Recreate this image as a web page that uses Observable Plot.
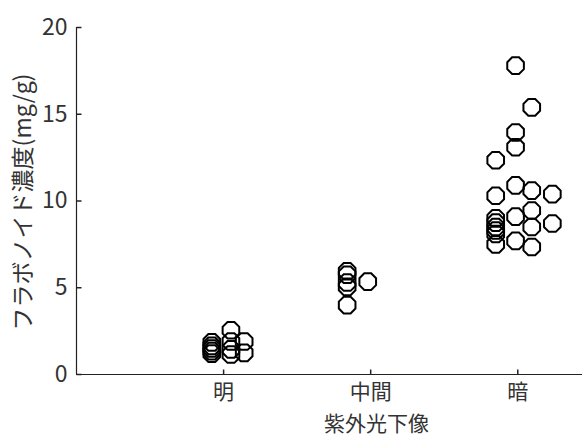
<!DOCTYPE html>
<html>
<head>
<meta charset="utf-8">
<script src="https://cdn.jsdelivr.net/npm/d3@7"></script>
<script src="https://cdn.jsdelivr.net/npm/@observablehq/plot@0.6"></script>
<style>
  html, body { margin: 0; padding: 0; background: #fff; }
</style>
</head>
<body>
<div id="chart"></div>
<script>
// ---- data ----
const categories = ["明", "中間", "暗"];
const yTicks = [0, 5, 10, 15, 20];
const yLabel = "フラボノイド濃度(mg/g)";
const xLabel = "紫外光下像";

// 明
const meiValues = [1.85, 1.65, 1.5, 1.35, 1.2, 2.55, 1.9, 1.45, 1.15, 1.9, 1.25];
const meiJitter = [-0.08, -0.08, -0.08, -0.08, -0.08, 0.05, 0.05, 0.05, 0.05, 0.14, 0.14];
// 中間
const chukanValues = [5.95, 5.75, 5.3, 5.05, 4.0, 5.35];
const chukanJitter = [-0.16, -0.16, -0.16, -0.16, -0.16, -0.02];
// 暗
const anValues = [12.35, 10.3, 9.0, 8.75, 8.5, 8.3, 8.1, 7.5,
                  17.8, 13.95, 13.1, 10.9, 9.1, 7.7,
                  15.4, 10.6, 9.45, 8.5, 7.35,
                  10.4, 8.7];
const anJitter = [-0.15, -0.15, -0.15, -0.15, -0.15, -0.15, -0.15, -0.15,
                  -0.015, -0.015, -0.015, -0.015, -0.015, -0.015,
                  0.095, 0.095, 0.095, 0.095, 0.095,
                  0.235, 0.235];

const groups = [
  {values: meiValues, jitter: meiJitter},
  {values: chukanValues, jitter: chukanJitter},
  {values: anValues, jitter: anJitter}
];
const points = groups.flatMap((g, i) =>
  g.values.map((v, j) => ({pos: i + 1 + g.jitter[j], value: v, cat: categories[i]})));
const catTicks = categories.map((c, i) => i + 1);

// ---- symbols ----
const octagon = {
  draw(ctx, size) {
    const r = Math.sqrt(size / Math.PI);
    for (let k = 0; k < 8; ++k) {
      const a = Math.PI / 8 + k * Math.PI / 4;
      const px = r * Math.cos(a), py = r * Math.sin(a);
      if (k) ctx.lineTo(px, py); else ctx.moveTo(px, py);
    }
    ctx.closePath();
  }
};
const tickRight = {draw(ctx) { ctx.moveTo(0, 0); ctx.lineTo(5, 0); }};
const tickUp = {draw(ctx) { ctx.moveTo(0, 0); ctx.lineTo(0, -5); }};

const font = "'Noto Sans CJK JP', 'Noto Sans', sans-serif";
const fs = 23;

const chart = Plot.plot({
  width: 582,
  height: 437,
  marginLeft: 76,
  marginRight: 0,
  marginTop: 27,
  marginBottom: 63,
  style: {fontFamily: font, fontSize: fs + "px", color: "#333", background: "#fff"},
  x: {domain: [0, 3.44]},
  y: {domain: [0, 20]},
  marks: [
    Plot.axisY({ticks: yTicks, tickSize: 0, tickPadding: 9, label: null, fontSize: fs}),
    Plot.axisX({ticks: catTicks, tickSize: 0, tickPadding: 10, label: null, fontSize: 21,
                tickFormat: d => categories[d - 1]}),
    Plot.ruleX([0], {y1: 0, y2: 20, stroke: "#222", strokeWidth: 1.2}),
    Plot.ruleY([0], {stroke: "#222", strokeWidth: 1.2}),
    Plot.dot(yTicks, {x: 0, y: d => d, symbol: tickRight, stroke: "#222", fill: "none", r: 2}),
    Plot.dot(catTicks, {x: d => d, y: 0, symbol: tickUp, stroke: "#222", fill: "none", r: 2}),
    Plot.dot(points, {x: "pos", y: "value", symbol: octagon, r: 9,
                      stroke: "#000", strokeWidth: 2, fill: "none"}),
    Plot.text([yLabel], {frameAnchor: "left", textAnchor: "middle", lineAnchor: "middle",
                         rotate: -90, dx: -53, dy: 1,
                         fontSize: fs, fill: "#333", fontFamily: font}),
    Plot.text([xLabel], {frameAnchor: "bottom", textAnchor: "middle", lineAnchor: "middle",
                         dx: 47, dy: 49.5,
                         fontSize: 21, fill: "#333", fontFamily: font})
  ]
});
document.getElementById("chart").appendChild(chart);
</script>
</body>
</html>
